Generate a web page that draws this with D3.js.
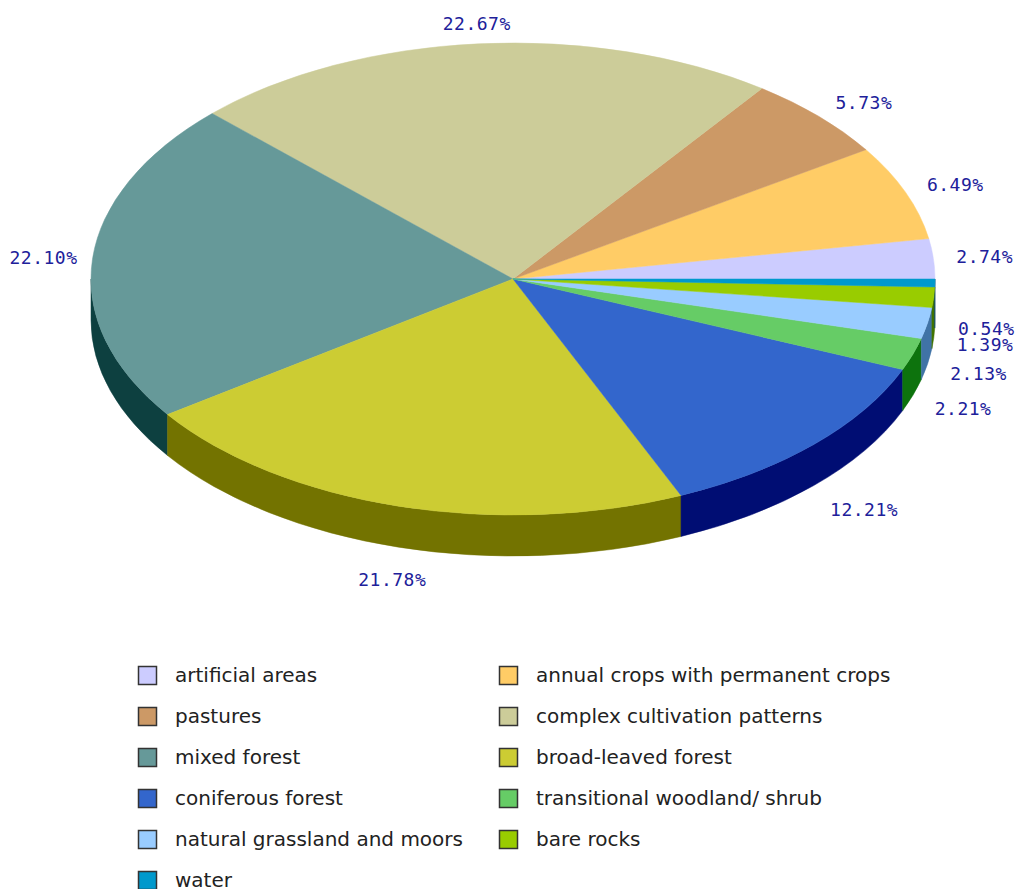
<!DOCTYPE html>
<html>
<head>
<meta charset="utf-8">
<script src="https://cdn.jsdelivr.net/npm/d3@7"></script>
<style>
  html, body { margin: 0; padding: 0; background: #ffffff; }
  svg { display: block; }
</style>
</head>
<body>
<svg id="chart" width="1018" height="889"></svg>
<script>
// Land cover shares (%), in drawing order: counter-clockwise from 3 o'clock
const categories = [
  "artificial areas",
  "annual crops with permanent crops",
  "pastures",
  "complex cultivation patterns",
  "mixed forest",
  "broad-leaved forest",
  "coniferous forest",
  "transitional woodland/ shrub",
  "natural grassland and moors",
  "bare rocks",
  "water"
];
const shares = [2.74, 6.49, 5.73, 22.67, 22.10, 21.78, 12.21, 2.21, 2.13, 1.39, 0.54];
const colors = [
  "#ccccff", "#ffcc66", "#cc9966", "#cccc99", "#669999", "#cccc33",
  "#3366cc", "#66cc66", "#99ccff", "#99cc00", "#0099cc"
];
// Legend is laid out in two columns, reading left to right
const legendOrder = categories.map((c, i) => i);

const svg = d3.select("#chart");

const cx = 513, cy = 279, rx = 422, ry = 236, depth = 41;

// wall colour: every channel pulled down by a fixed amount
function wallColor(c) {
  const k = d3.rgb(c);
  const f = v => Math.max(0, v - 89);
  return d3.rgb(f(k.r), f(k.g), f(k.b)).formatHex();
}

const pie = d3.pie().sort(null).value(d => d).startAngle(0).endAngle(2 * Math.PI);
const arcs = pie(shares);

// angle θ measured counter-clockwise from 3 o'clock
const px = t => cx + rx * Math.cos(t);
const py = t => cy - ry * Math.sin(t);

// curved front walls (lower half of the ellipse only)
const walls = svg.append("g").attr("class", "walls");
arcs.forEach((a, i) => {
  const a0 = Math.max(a.startAngle, Math.PI);
  const a1 = Math.min(a.endAngle, 2 * Math.PI);
  if (a1 <= a0) return;
  const large = (a1 - a0) > Math.PI ? 1 : 0;
  const d = `M${px(a0)},${py(a0)} A${rx},${ry} 0 ${large} 0 ${px(a1)},${py(a1)} ` +
            `L${px(a1)},${py(a1) + depth} A${rx},${ry} 0 ${large} 1 ${px(a0)},${py(a0) + depth} Z`;
  walls.append("path").attr("d", d).attr("fill", wallColor(colors[i]))
    .attr("stroke", wallColor(colors[i])).attr("stroke-width", 0.5);
});

// top faces
const tops = svg.append("g").attr("class", "tops");
arcs.forEach((a, i) => {
  const a0 = a.startAngle, a1 = a.endAngle;
  const large = (a1 - a0) > Math.PI ? 1 : 0;
  const d = `M${cx},${cy} L${px(a0)},${py(a0)} A${rx},${ry} 0 ${large} 0 ${px(a1)},${py(a1)} Z`;
  tops.append("path").attr("d", d).attr("fill", colors[i])
    .attr("stroke", colors[i]).attr("stroke-width", 0.5);
});

// percentage labels around the pie
const labels = svg.append("g").attr("class", "labels");
arcs.forEach((a, i) => {
  const m = (a.startAngle + a.endAngle) / 2;
  const c = Math.cos(m), s = Math.sin(m);
  let anchor, x;
  if (Math.abs(c) < 0.35) { anchor = "middle"; x = cx + c * 445; }
  else if (c > 0) { anchor = "start"; x = cx + c * 445; }
  else { anchor = "end"; x = cx + c * 437; }
  const y = s >= 0 ? cy - s * 256 : cy - s * 265 + 45;
  labels.append("text")
    .attr("x", x).attr("y", y)
    .attr("text-anchor", anchor)
    .attr("dominant-baseline", "central")
    .attr("font-family", "DejaVu Sans Mono, monospace")
    .attr("font-size", 18)
    .attr("letter-spacing", 0.5)
    .attr("fill", "#20209a")
    .text(shares[i].toFixed(2) + "%");
});

// legend
const legend = svg.append("g").attr("class", "legend");
const colX = [138, 499], rowY0 = 675, rowStep = 41, box = 18;
legendOrder.forEach((idx, k) => {
  const col = k % 2, row = Math.floor(k / 2);
  const x = colX[col], y = rowY0 + row * rowStep;
  legend.append("rect")
    .attr("x", x + 0.5).attr("y", y - box / 2 + 0.5)
    .attr("width", box).attr("height", box)
    .attr("fill", colors[idx]).attr("stroke", "#333333").attr("stroke-width", 1.5);
  legend.append("text")
    .attr("x", x + 37).attr("y", y)
    .attr("dominant-baseline", "central")
    .attr("font-family", "DejaVu Sans, sans-serif")
    .attr("font-size", 20)
    .attr("fill", "#222222")
    .text(categories[idx]);
});
</script>
</body>
</html>
